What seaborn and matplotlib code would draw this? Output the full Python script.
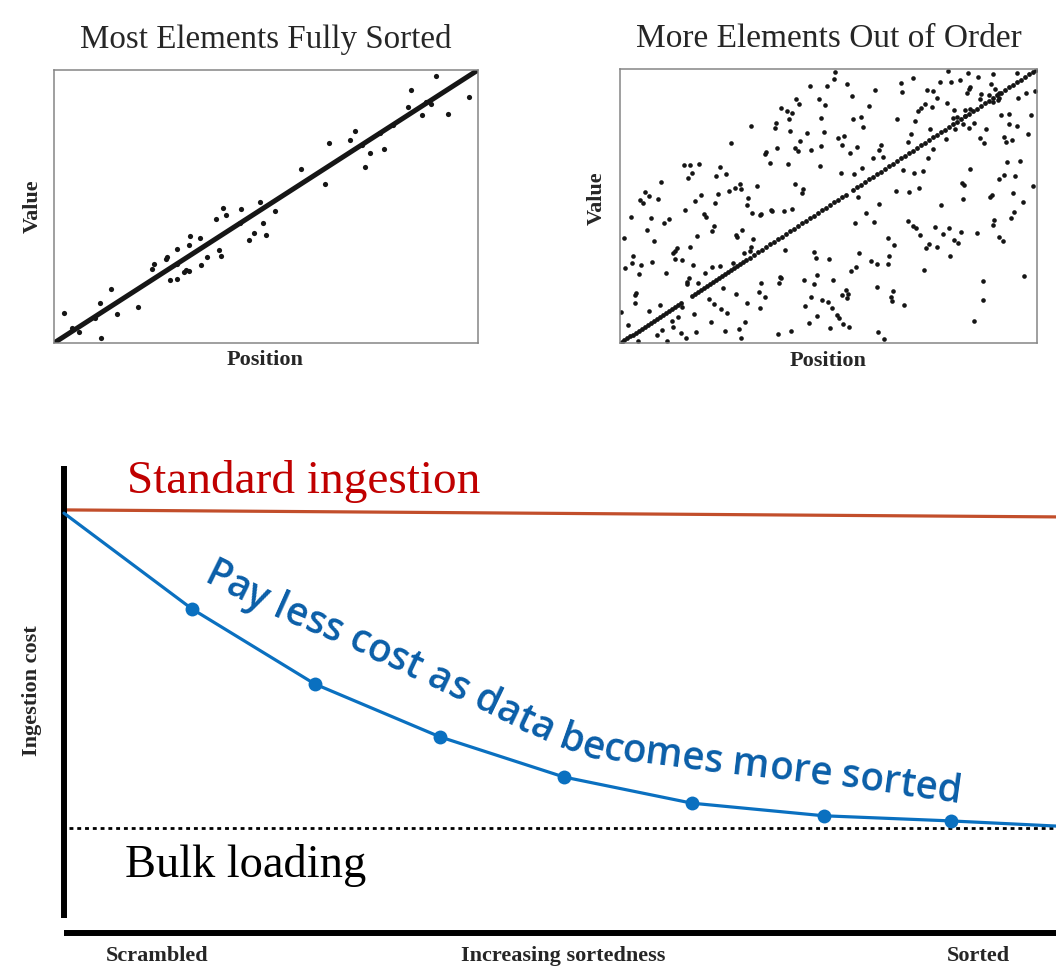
import numpy as np
import seaborn as sns
import matplotlib.pyplot as plt

W, H = 1056, 971

# ---------------------------------------------------------------------------
# DATA
# ---------------------------------------------------------------------------
# Left panel: mostly sorted (position / value on a 0-100 scale)
left_pos = [2.3, 4.3, 5.9, 9.6, 10.8, 11.2, 13.4, 14.9, 19.9, 23.1, 23.7, 26.3, 26.7, 27.3, 28.9,
            28.9, 29.1, 30.6, 31.2, 31.8, 31.8, 32.1, 34.4, 34.7, 36.1, 38.1, 38.9, 39.5, 39.9, 40.5,
            44.0, 43.8, 45.9, 47.1, 48.7, 49.3, 49.9, 52.1, 58.3, 63.8, 64.9, 69.9, 71.1, 72.6, 73.3,
            74.5, 76.8, 77.9, 80.0, 83.6, 84.1, 86.8, 87.8, 88.8, 90.1, 92.9, 97.9]
left_val = [11.0, 5.5, 4.0, 9.2, 14.7, 2.0, 19.6, 10.5, 13.2, 27.0, 28.9, 30.6, 31.5, 22.9, 34.4,
            28.9, 23.5, 26.0, 26.7, 26.4, 35.8, 39.2, 38.6, 28.6, 31.4, 45.6, 34.2, 31.8, 49.6, 46.8,
            49.0, 43.9, 37.8, 40.2, 51.8, 43.9, 39.7, 48.4, 63.7, 58.1, 73.1, 74.2, 77.6, 72.5, 64.3,
            69.7, 77.0, 70.9, 80.0, 86.6, 92.7, 83.5, 88.4, 87.4, 97.8, 83.9, 90.0]
fit_pos = [0, 100]
fit_val = [0, 100]

# Right panel: out of order (position 0-417, value 0-274), split by quadrant
right_pts_ul = [(190, 257), (207, 257), (176, 244), (179, 239), (199, 244), (205, 238), (161, 235),
                (167, 232), (172, 230), (169, 224), (201, 225), (131, 217), (156, 220), (155, 215),
                (170, 212), (187, 210), (204, 211), (180, 202), (201, 197), (111, 200), (157, 195),
                (175, 195), (178, 192), (191, 193), (146, 191), (145, 189), (150, 180), (168, 179),
                (200, 177), (64, 178), (70, 178), (79, 179), (100, 176), (72, 170), (68, 165),
                (96, 167), (106, 169), (41, 161), (120, 159), (115, 155), (121, 154), (109, 152),
                (137, 157), (175, 159), (183, 154), (182, 150), (25, 151), (29, 147), (20, 143),
                (23, 140), (38, 144), (81, 148), (98, 149), (75, 142), (95, 140), (128, 145)]
right_pts_ll = [(65, 133), (84, 129), (86, 126), (127, 138), (132, 130), (140, 128), (141, 129),
                (151, 133), (152, 132), (164, 132), (172, 134), (11, 126), (31, 125), (44, 120),
                (49, 124), (27, 113), (34, 102), (4, 105), (94, 117), (92, 112), (77, 107),
                (116, 108), (117, 106), (122, 113), (133, 104), (70, 96), (55, 92), (57, 95),
                (53, 90), (62, 83), (55, 84), (13, 87), (12, 80), (21, 78), (5, 75), (32, 81),
                (19, 69), (73, 78), (46, 70), (85, 70), (92, 76), (100, 77), (113, 80), (124, 90),
                (130, 92), (131, 96), (165, 93), (194, 91), (196, 85), (209, 84), (69, 65), (67, 61),
                (67, 59), (78, 60), (103, 55), (160, 66), (161, 65), (159, 60), (141, 60), (194, 59),
                (197, 68), (184, 63), (16, 50), (15, 48), (15, 40), (40, 38), (62, 36), (29, 32),
                (1, 31), (89, 44), (94, 39), (116, 49), (101, 34), (107, 30), (127, 40), (139, 51),
                (145, 46), (140, 35), (191, 46), (185, 37), (202, 43), (208, 41), (74, 29), (52, 22),
                (53, 16), (58, 26), (42, 13), (37, 8), (47, 2), (61, 10), (66, 5), (76, 11), (91, 21),
                (105, 12), (119, 14), (121, 5), (125, 21), (158, 9), (171, 12), (189, 20), (197, 27),
                (8, 18), (18, 2)]
right_pts_ur = [(215, 271), (214, 264), (227, 259), (232, 247), (255, 253), (249, 237), (281, 260),
                (282, 251), (293, 265), (307, 253), (313, 252), (317, 245), (328, 272), (320, 261),
                (331, 261), (340, 263), (348, 270), (358, 266), (373, 269), (371, 259), (350, 256),
                (349, 254), (347, 250), (361, 249), (360, 244), (369, 248), (375, 254), (379, 250),
                (379, 245), (398, 245), (406, 250), (415, 252), (397, 270), (327, 240), (334, 233),
                (333, 225), (337, 226), (345, 233), (345, 227), (350, 234), (343, 219), (335, 214),
                (349, 215), (354, 220), (366, 214), (373, 241), (378, 243), (381, 228), (389, 229),
                (389, 219), (397, 217), (411, 228), (408, 209), (384, 206), (386, 201), (392, 203),
                (360, 205), (364, 200), (233, 224), (241, 226), (243, 216), (277, 224), (295, 222),
                (298, 232), (301, 235), (305, 239), (312, 236), (310, 214), (291, 209), (288, 201),
                (218, 205), (224, 207), (222, 198), (230, 190), (237, 196), (259, 193), (261, 198),
                (263, 186), (253, 185), (242, 175), (234, 169), (221, 170), (283, 173), (294, 170),
                (303, 172), (308, 185), (313, 194), (326, 204), (350, 174), (342, 160), (344, 158),
                (387, 181), (400, 182), (384, 168), (395, 167), (379, 164), (413, 157), (276, 152),
                (289, 151), (299, 155), (238, 146), (259, 139), (321, 138), (370, 146), (372, 148),
                (393, 150), (403, 141), (343, 144)]
right_pts_lr = [(246, 130), (235, 120), (254, 121), (288, 122), (293, 117), (296, 115), (300, 108),
                (315, 116), (323, 109), (329, 115), (341, 111), (334, 103), (338, 100), (357, 110),
                (374, 123), (373, 118), (391, 125), (394, 131), (379, 106), (383, 102), (268, 105),
                (274, 98), (309, 99), (306, 95), (317, 96), (330, 87), (239, 90), (251, 82), (257, 79),
                (269, 87), (268, 79), (304, 73), (236, 76), (231, 72), (213, 63), (257, 56), (226, 53),
                (228, 49), (222, 48), (227, 45), (273, 52), (271, 46), (272, 42), (284, 38), (212, 35),
                (217, 28), (219, 25), (223, 19), (229, 16), (210, 15), (258, 11), (264, 4), (354, 22),
                (363, 43), (363, 62), (404, 67)]

# elements still in their sorted slot (the diagonal)
diag_pos = [0, 2, 4, 7, 10, 13, 16, 19, 22, 25, 28, 31, 34, 37, 40, 43, 46, 49, 52, 55, 58, 61,
            72, 75, 78, 81, 84, 87, 90, 93, 96, 99, 102, 105, 108, 111, 114, 117, 120, 123, 126,
            130, 134, 138, 142, 146, 150, 154, 158, 162, 166, 170, 174, 178, 182, 186, 190, 194,
            198, 202, 206, 210, 214, 218, 222, 226, 233, 237, 241, 245, 249, 253, 257, 261, 265,
            269, 273, 277, 281, 285, 289, 293, 297, 301, 305, 309, 313, 317, 321, 325, 329, 333,
            337, 341, 345, 349, 353, 357, 361, 365, 369, 373, 377, 381, 385, 389, 393, 397, 401,
            405, 409, 413, 416]
diag_val = [0, 1.3, 2.6, 4.6, 6.6, 8.5, 10.5, 12.5, 14.5, 16.4, 18.4, 20.4, 22.3, 24.3, 26.3, 28.3,
            30.2, 32.2, 34.2, 36.1, 38.1, 40.1, 47.3, 49.3, 51.2, 53.2, 55.2, 57.2, 59.1, 61.1,
            63.1, 65.0, 67.0, 69.0, 71.0, 72.9, 74.9, 76.9, 78.8, 80.8, 82.8, 85.4, 88.0, 90.7,
            93.3, 95.9, 98.6, 101.2, 103.8, 106.4, 109.1, 111.7, 114.3, 116.9, 119.6, 122.2, 124.8,
            127.5, 130.1, 132.7, 135.3, 138.0, 140.6, 143.2, 145.9, 148.5, 153.1, 155.7, 158.3,
            161.0, 163.6, 166.2, 168.8, 171.5, 174.1, 176.7, 179.4, 182.0, 184.6, 187.2, 189.9,
            192.5, 195.1, 197.8, 200.4, 203.0, 205.6, 208.3, 210.9, 213.5, 216.2, 218.8, 221.4,
            224.0, 226.7, 229.3, 231.9, 234.5, 237.2, 239.8, 242.4, 245.1, 247.7, 250.3, 252.9,
            255.6, 258.2, 260.8, 263.5, 266.1, 268.7, 271.3, 273.3]

# Bottom panel: ingestion cost vs sortedness (both 0-100)
sortedness = [0, 12.9, 25.3, 37.9, 50.4, 63.3, 76.6, 89.4, 100]
adaptive_cost = [89.9, 69.4, 53.3, 42.0, 33.4, 27.8, 25.1, 24.0, 22.9]
standard_x = [0, 100]
standard_cost = [90.6, 89.1]
bulk_x = [0.5, 100]
bulk_cost = [22.5, 22.5]

x_labels = ["Scrambled", "Increasing sortedness", "Sorted"]

# ---------------------------------------------------------------------------
# STYLE
# ---------------------------------------------------------------------------
sns.set_theme(style="white")
plt.rcParams['font.family'] = ['Liberation Serif', 'DejaVu Serif']

DOT = '#151515'
GREY = '#858585'
RED_LINE = '#c24e2b'
RED_TEXT = '#c00000'
BLUE = '#0a70c0'
BLUE_TEXT = '#0a5ea8'

fig = plt.figure(figsize=(W / 100, H / 100), dpi=100)
fig.patch.set_facecolor('white')


def px_axes(l, t, r, b):
    return fig.add_axes([l / W, 1 - b / H, (r - l) / W, (b - t) / H])


def frame(ax):
    ax.set_xticks([])
    ax.set_yticks([])
    ax.set_xlabel('')
    ax.set_ylabel('')
    for sp in ax.spines.values():
        sp.set_color(GREY)
        sp.set_linewidth(1.1)


# Top left: most elements fully sorted
ax1 = px_axes(54, 70, 478, 343)
sns.scatterplot(x=left_pos, y=left_val, ax=ax1, color=DOT, s=14, linewidth=0, zorder=3)
sns.lineplot(x=fit_pos, y=fit_val, ax=ax1, color='#161616', linewidth=3.6, zorder=2)
ax1.set_xlim(0, 100)
ax1.set_ylim(0, 100)
frame(ax1)
ax1.set_title('Most Elements Fully Sorted', fontsize=23.8, pad=15.5)

# Top right: more elements out of order
right_pts = right_pts_ul + right_pts_ll + right_pts_ur + right_pts_lr
rx, ry = zip(*right_pts)
ax2 = px_axes(620, 69, 1037, 343)
sns.scatterplot(x=list(rx), y=list(ry), ax=ax2, color=DOT, s=11, linewidth=0)
sns.scatterplot(x=diag_pos, y=diag_val, ax=ax2, color=DOT, s=12, linewidth=0)
ax2.set_xlim(0, 417)
ax2.set_ylim(0, 274)
frame(ax2)
ax2.set_title('More Elements Out of Order', fontsize=24, pad=15.5)

lab = dict(fontsize=16, fontweight='bold', ha='center', va='center')
fig.text(265 / W, 1 - 360 / H, 'Position', **lab)
fig.text(828 / W, 1 - 361 / H, 'Position', **lab)
fig.text(33 / W, 1 - 206 / H, 'Value', rotation=90, **lab)
fig.text(597 / W, 1 - 198 / H, 'Value', rotation=90, **lab)

# Bottom: ingestion cost
ax3 = px_axes(64, 466, 1056, 933)
sns.lineplot(x=standard_x, y=standard_cost, ax=ax3, color=RED_LINE, linewidth=2.3, clip_on=False)
sns.lineplot(x=bulk_x, y=bulk_cost, ax=ax3, color='black', linewidth=2.0,
             linestyle=(0, (1.4, 1.4)), clip_on=False)
sns.lineplot(x=sortedness, y=adaptive_cost, ax=ax3, color=BLUE, linewidth=2.3, marker='o',
             markersize=10, markeredgewidth=0, markevery=list(range(1, 8)), clip_on=False, zorder=4)
ax3.set_xlim(0, 100)
ax3.set_ylim(0, 100)
ax3.set_xticks([])
ax3.set_yticks([])
ax3.set_xlabel('')
ax3.set_ylabel('')
ax3.set_facecolor('none')
for side in ['top', 'right']:
    ax3.spines[side].set_visible(False)
for side in ['left', 'bottom']:
    ax3.spines[side].set_color('black')
    ax3.spines[side].set_linewidth(4.3)
    ax3.spines[side].set_capstyle('butt')
ax3.spines['left'].set_bounds(3.2, 100)

ax3.text(6.35, 94.2, 'Standard ingestion', color=RED_TEXT, fontsize=34,
         ha='left', va='baseline', clip_on=False)
ax3.text(6.15, 12.0, 'Bulk loading', color='black', fontsize=33.5,
         ha='left', va='baseline', clip_on=False)

fig.text(32 / W, 1 - 691 / H, 'Ingestion cost', rotation=90, **lab)
for label, xc in zip(x_labels, [157, 563, 978]):
    fig.text(xc / W, 1 - 956 / H, label, **lab)


# Curved annotation that follows the cost curve
def text_on_path(s, path_px, fontsize, **kw):
    renderer = fig.canvas.get_renderer()
    pts = np.array([(x, H - y) for x, y in path_px], float)
    seg = np.diff(pts, axis=0)
    seglen = np.hypot(seg[:, 0], seg[:, 1])
    cum = np.concatenate([[0], np.cumsum(seglen)])
    seg_mid = (cum[:-1] + cum[1:]) / 2
    seg_ang = np.degrees(np.arctan2(seg[:, 1], seg[:, 0]))

    probe = fig.text(0, 0, '|', fontsize=fontsize, **kw)
    bar_w = probe.get_window_extent(renderer).width
    probe.set_text(s + '|')
    total = probe.get_window_extent(renderer).width - bar_w
    # fit the string to the path length
    fontsize = fontsize * cum[-1] / total
    probe.set_fontsize(fontsize)
    probe.set_text('|')
    bar_w = probe.get_window_extent(renderer).width
    offsets = []
    for i in range(len(s) + 1):
        probe.set_text(s[:i] + '|')
        offsets.append(probe.get_window_extent(renderer).width - bar_w)
    probe.remove()

    for i, ch in enumerate(s):
        if ch == ' ':
            continue
        start = offsets[i]
        mid = (offsets[i] + offsets[i + 1]) / 2
        x = np.interp(start, cum, pts[:, 0])
        y = np.interp(start, cum, pts[:, 1])
        ang = np.interp(mid, seg_mid, seg_ang)
        fig.text(x / W, y / H, ch, fontsize=fontsize, rotation=ang, rotation_mode='anchor',
                 ha='left', va='baseline', **kw)


label_path = [(202, 582), (269, 615), (336, 643), (418, 681), (470, 706), (522, 731),
              (552, 745), (580, 755), (720, 773), (829, 785), (960, 803)]
text_on_path('Pay less cost as data becomes more sorted', label_path, 27,
             color=BLUE_TEXT, family=['Open Sans', 'DejaVu Sans'], fontweight='semibold')

fig.savefig('out.png', dpi=100)
